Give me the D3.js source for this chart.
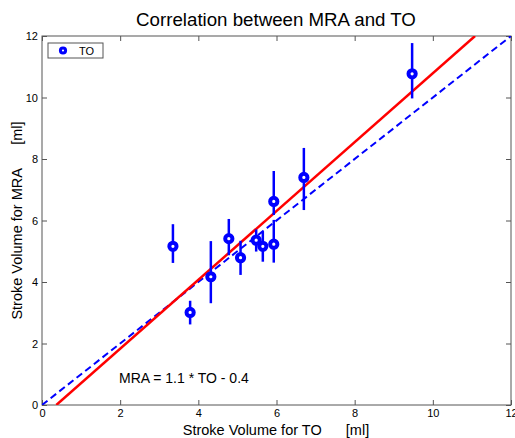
<!DOCTYPE html>
<html>
<head>
<meta charset="utf-8">
<script src="https://cdn.jsdelivr.net/npm/d3@7"></script>
<style>
  body { margin: 0; background: #fff; }
  text { font-family: 'Liberation Sans', Arial, sans-serif; }
</style>
</head>
<body>
<svg width="515" height="438"></svg>
<script>
// measured data
const toValues = [3.35, 3.79, 4.32, 4.78, 5.08, 5.48, 5.65, 5.93, 5.93, 6.70, 9.47]
const mraValues = [5.16, 3.01, 4.17, 5.41, 4.79, 5.36, 5.16, 5.23, 6.62, 7.40, 10.77]
const errLow = [4.62, 2.62, 3.31, 4.87, 4.23, 4.99, 4.66, 4.63, 6.18, 6.34, 9.97]
const errHigh = [5.88, 3.39, 5.33, 6.05, 5.34, 5.71, 5.64, 6.02, 7.61, 8.36, 11.77]
const tickValues = [0, 2, 4, 6, 8, 10, 12]
const fitSlope = 1.12
const fitIntercept = -0.41

const svg = d3.select('svg')
const mLeft = 42, mRight = 511, mTop = 36, mBottom = 405

const x = d3.scaleLinear().domain([0, 12]).range([mLeft, mRight])
const y = d3.scaleLinear().domain([0, 12]).range([mBottom, mTop])

const blue = '#0000ff'
const axisColor = '#555'

// clip for lines
svg.append('clipPath').attr('id', 'clip')
	.append('rect')
	.attr('x', mLeft).attr('y', mTop)
	.attr('width', mRight - mLeft).attr('height', mBottom - mTop)

// axes box
svg.append('rect')
	.attr('x', mLeft).attr('y', mTop)
	.attr('width', mRight - mLeft).attr('height', mBottom - mTop)
	.attr('fill', 'none')
	.attr('stroke', axisColor)
	.attr('stroke-width', 1)

const styleAxis = (g) => {
	g.select('.domain').remove()
	g.selectAll('.tick line').attr('stroke', axisColor)
	g.selectAll('.tick text').attr('fill', '#000').attr('font-size', 11)
		.style('font-family', "'Liberation Sans', Arial, sans-serif")
}

svg.append('g')
	.attr('transform', `translate(0,${mBottom})`)
	.call(d3.axisBottom(x).tickValues(tickValues).tickSize(-5).tickPadding(4).tickFormat(d3.format('d')))
	.call(styleAxis)

svg.append('g')
	.attr('transform', `translate(0,${mTop})`)
	.call(d3.axisTop(x).tickValues(tickValues).tickSize(-5).tickFormat(''))
	.call(styleAxis)

svg.append('g')
	.attr('transform', `translate(${mLeft},0)`)
	.call(d3.axisLeft(y).tickValues(tickValues).tickSize(-5).tickPadding(4).tickFormat(d3.format('d')))
	.call(styleAxis)

svg.append('g')
	.attr('transform', `translate(${mRight},0)`)
	.call(d3.axisRight(y).tickValues(tickValues).tickSize(-5).tickFormat(''))
	.call(styleAxis)

const plot = svg.append('g').attr('clip-path', 'url(#clip)')

// identity line
plot.append('line')
	.attr('x1', x(0)).attr('y1', y(0))
	.attr('x2', x(12)).attr('y2', y(12))
	.attr('stroke', blue)
	.attr('stroke-width', 2)
	.attr('stroke-dasharray', '7,4')

// fit line
const x0 = -fitIntercept / fitSlope
const x1 = (12 - fitIntercept) / fitSlope
plot.append('line')
	.attr('x1', x(x0)).attr('y1', y(0))
	.attr('x2', x(x1)).attr('y2', y(12))
	.attr('stroke', '#ff0000')
	.attr('stroke-width', 2.5)

// error bars
const pts = toValues.map((v, i) => ({ to: v, mra: mraValues[i], lo: errLow[i], hi: errHigh[i] }))

svg.append('g').selectAll('line')
	.data(pts)
	.enter()
	.append('line')
	.attr('x1', d => x(d.to)).attr('x2', d => x(d.to))
	.attr('y1', d => y(d.lo)).attr('y2', d => y(d.hi))
	.attr('stroke', blue)
	.attr('stroke-width', 2.5)

svg.append('g').selectAll('circle')
	.data(pts)
	.enter()
	.append('circle')
	.attr('cx', d => x(d.to))
	.attr('cy', d => y(d.mra))
	.attr('r', 3.6)
	.attr('fill', '#fff')
	.attr('stroke', blue)
	.attr('stroke-width', 4)

// legend
const lg = svg.append('g')
lg.append('rect')
	.attr('x', 48).attr('y', 43)
	.attr('width', 55).attr('height', 15)
	.attr('fill', '#fff')
	.attr('stroke', axisColor)
lg.append('circle')
	.attr('cx', 63).attr('cy', 50.5).attr('r', 2.6)
	.attr('fill', '#fff').attr('stroke', blue).attr('stroke-width', 3)
lg.append('text')
	.attr('x', 79).attr('y', 54.5)
	.attr('font-size', 11)
	.text('TO')

// equation
svg.append('text')
	.attr('x', 119).attr('y', 383)
	.attr('font-size', 14)
	.text('MRA = 1.1 * TO - 0.4')

// title
svg.append('text')
	.attr('x', 276).attr('y', 26)
	.attr('text-anchor', 'middle')
	.attr('font-size', 18.7)
	.text('Correlation between MRA and TO')

// axis labels
svg.append('text')
	.attr('x', 276).attr('y', 435)
	.attr('text-anchor', 'middle')
	.attr('font-size', 14.5)
	.style('white-space', 'pre')
	.text('Stroke Volume for TO      [ml]')

svg.append('text')
	.attr('transform', `translate(22,${(mTop + mBottom) / 2}) rotate(-90)`)
	.attr('text-anchor', 'middle')
	.attr('font-size', 14.5)
	.style('white-space', 'pre')
	.text('Stroke Volume for MRA      [ml]')
</script>
</body>
</html>
